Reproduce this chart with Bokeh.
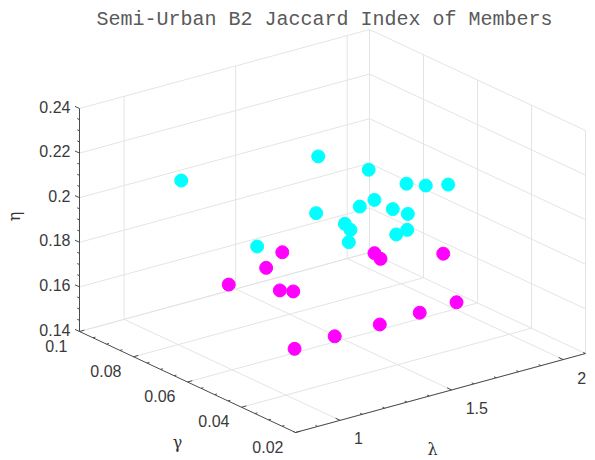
import numpy as np
from bokeh.plotting import figure
from bokeh.models import Range1d
from bokeh.embed import file_html
from bokeh.resources import INLINE
from bokeh.core.properties import value

# ---------------- data ----------------
title_text = "Semi-Urban B2 Jaccard Index of Members"

lam_cyan = [1.014, 1.386, 1.467, 1.588, 1.626, 1.678, 1.425, 1.524, 1.541,
            1.575, 1.594, 1.457, 1.482, 1.523, 1.542, 1.543, 1.209]
gam_cyan = [0.080, 0.060, 0.048, 0.044, 0.040, 0.036, 0.064, 0.056, 0.052,
            0.048, 0.044, 0.056, 0.056, 0.060, 0.044, 0.040, 0.068]
eta_cyan = [0.2132, 0.2252, 0.2238, 0.2165, 0.2169, 0.2182, 0.1964, 0.2012, 0.2060,
            0.2032, 0.2028, 0.1953, 0.1919, 0.1830, 0.1950, 0.1993, 0.1851]

lam_mag = [1.225, 1.201, 1.130, 1.214, 1.274, 1.493, 1.520, 1.656,
           2.006, 1.841, 1.662, 1.460, 1.280]
gam_mag = [0.060, 0.064, 0.072, 0.060, 0.060, 0.048, 0.048, 0.036,
           0.060, 0.060, 0.060, 0.060, 0.060]
eta_mag = [0.1866, 0.1780, 0.1679, 0.1698, 0.1677, 0.1857, 0.1824, 0.1878,
           0.1429, 0.1427, 0.1423, 0.1425, 0.1418]

lam_lim = [0.8, 2.1]
gam_lim = [0.02, 0.1]
eta_lim = [0.14, 0.24]

lam_ticks = [1.0, 1.5, 2.0]
lam_labels = ["1", "1.5", "2"]
gam_ticks = [0.02, 0.04, 0.06, 0.08, 0.10]
gam_labels = ["0.02", "0.04", "0.06", "0.08", "0.1"]
eta_ticks = [0.14, 0.16, 0.18, 0.20, 0.22, 0.24]
eta_labels = ["0.14", "0.16", "0.18", "0.2", "0.22", "0.24"]

# ---------------- 3-D view (orthographic projection to page pixels) ----------------
ORIGIN = (295.0, 432.0)     # screen point of (lam_min, gam_min, eta_min)
VX = (290.0, -79.0)         # screen vector spanning the full lambda range
VY = (-216.0, -101.0)       # screen vector spanning the full gamma range
VZ = (0.0, -223.0)          # screen vector spanning the full eta range


def proj(l, g, e):
    l = np.asarray(l, dtype=float)
    g = np.asarray(g, dtype=float)
    e = np.asarray(e, dtype=float)
    a = (l - lam_lim[0]) / (lam_lim[1] - lam_lim[0])
    b = (g - gam_lim[0]) / (gam_lim[1] - gam_lim[0])
    c = (e - eta_lim[0]) / (eta_lim[1] - eta_lim[0])
    x = ORIGIN[0] + a * VX[0] + b * VY[0] + c * VZ[0]
    y = ORIGIN[1] + a * VX[1] + b * VY[1] + c * VZ[1]
    return x, y


def seg(p0, p1):
    x0, y0 = proj(*p0)
    x1, y1 = proj(*p1)
    return [float(x0), float(x1)], [float(y0), float(y1)]


W, H = 595, 460
p = figure(width=W, height=H, output_backend="svg", toolbar_location=None,
           x_range=Range1d(0, W), y_range=Range1d(H, 0),
           min_border=0, background_fill_color="white", border_fill_color="white")
p.axis.visible = False
p.grid.visible = False
p.outline_line_color = None

L0, L1 = lam_lim
G0, G1 = gam_lim
E0, E1 = eta_lim

# ---------------- grid on the back planes ----------------
gx, gy = [], []
def add(p0, p1):
    xs, ys = seg(p0, p1)
    gx.append(xs); gy.append(ys)

for l in lam_ticks:
    add((l, G0, E0), (l, G1, E0))      # floor
    add((l, G1, E0), (l, G1, E1))      # back-left wall
for g in gam_ticks:
    add((L0, g, E0), (L1, g, E0))      # floor
    add((L1, g, E0), (L1, g, E1))      # back-right wall
for e in eta_ticks:
    add((L0, G1, e), (L1, G1, e))      # back-left wall
    add((L1, G0, e), (L1, G1, e))      # back-right wall
p.multi_line(gx, gy, line_color="#e4e4e4", line_width=1)

# ---------------- axis lines ----------------
ax_x, ax_y = [], []
for a0, a1 in [((L0, G1, E0), (L0, G1, E1)),
               ((L0, G0, E0), (L0, G1, E0)),
               ((L0, G0, E0), (L1, G0, E0))]:
    xs, ys = seg(a0, a1)
    ax_x.append(xs); ax_y.append(ys)
p.multi_line(ax_x, ax_y, line_color="#4a4a4a", line_width=1)

# ticks (major and minor)
tx, ty = [], []
def tick(x0, y0, dx, dy, ln):
    tx.append([float(x0), float(x0 + dx * ln)])
    ty.append([float(y0), float(y0 + dy * ln)])

def unit(v):
    n = (v[0] ** 2 + v[1] ** 2) ** 0.5
    return v[0] / n, v[1] / n

dz = unit(VY)
dg = unit(VX)
dl = unit(VY)

for e in np.arange(E0, E1 + 1e-9, 0.005):
    x0, y0 = proj(L0, G1, e)
    major = any(abs(e - t) < 1e-9 for t in eta_ticks)
    tick(x0, y0, dz[0], dz[1], 5 if major else 2.5)
for g in np.arange(G0, G1 + 1e-9, 0.005):
    x0, y0 = proj(L0, g, E0)
    major = any(abs(g - t) < 1e-9 for t in gam_ticks)
    tick(x0, y0, dg[0], dg[1], 5 if major else 2.5)
for l in np.arange(L0, L1 + 1e-9, 0.1):
    x0, y0 = proj(l, G0, E0)
    major = any(abs(l - t) < 1e-9 for t in lam_ticks)
    tick(x0, y0, dl[0], dl[1], 5 if major else 2.5)
p.multi_line(tx, ty, line_color="#4a4a4a", line_width=1)

# ---------------- tick labels ----------------
tick_font = value("Liberation Sans")
zx, zy = proj([L0] * len(eta_ticks), [G1] * len(eta_ticks), eta_ticks)
p.text(x=list(zx - 9), y=list(zy - 2), text=eta_labels, text_font=tick_font,
       text_font_size="16px", text_color="#3a3a3a", text_align="right",
       text_baseline="middle")
gx_, gy_ = proj([L0] * len(gam_ticks), gam_ticks, [E0] * len(gam_ticks))
p.text(x=list(gx_ - 12), y=list(gy_ + 14), text=gam_labels, text_font=tick_font,
       text_font_size="16px", text_color="#3a3a3a", text_align="right",
       text_baseline="middle")
lx, ly = proj(lam_ticks, [G0] * len(lam_ticks), [E0] * len(lam_ticks))
p.text(x=list(lx + 14), y=list(ly + 18), text=lam_labels, text_font=tick_font,
       text_font_size="16px", text_color="#3a3a3a", text_align="left",
       text_baseline="middle")

# ---------------- axis labels ----------------
lab_font = value("DejaVu Serif")
p.text(x=[14], y=[216], text=["η"], angle=np.pi / 2, text_font=lab_font,
       text_font_size="16px", text_color="#333333", text_align="center",
       text_baseline="middle")
p.text(x=[177], y=[442], text=["γ"], text_font=lab_font, text_font_size="16px",
       text_color="#333333", text_align="center", text_baseline="middle")
p.text(x=[432], y=[449], text=["λ"], text_font=lab_font, text_font_size="16px",
       text_color="#333333", text_align="center", text_baseline="middle")

# ---------------- title ----------------
p.text(x=[324], y=[19], text=[title_text], text_font=value("Liberation Mono"),
       text_font_size="20px", text_color="#5a5a5a", text_align="center",
       text_baseline="middle")

# ---------------- data points ----------------
cx, cy = proj(lam_cyan, gam_cyan, eta_cyan)
p.scatter(list(cx), list(cy), size=13, fill_color="#00ffff", line_color="#00ffff")
mx, my = proj(lam_mag, gam_mag, eta_mag)
p.scatter(list(mx), list(my), size=13, fill_color="#ff00ff", line_color="#ff00ff")

open("out.html", "w").write(file_html(p, INLINE))
